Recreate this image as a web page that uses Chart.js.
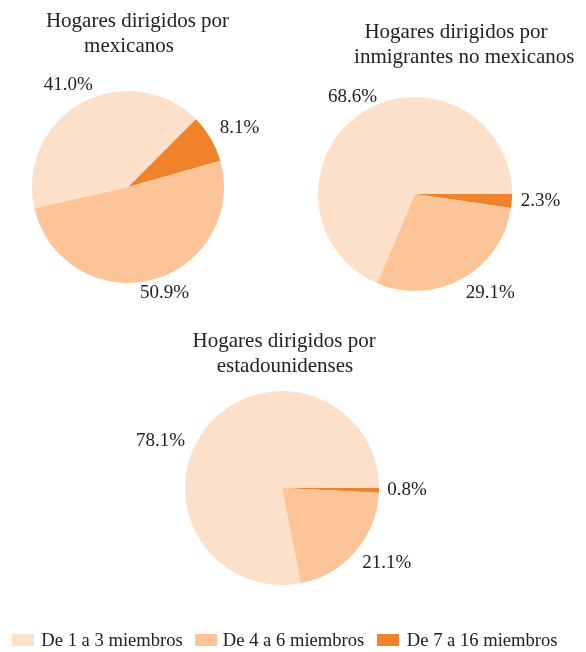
<!DOCTYPE html>
<html>
<head>
<meta charset="utf-8">
<script src="https://cdn.jsdelivr.net/npm/chart.js@4/dist/chart.umd.min.js"></script>
<style>
  html, body { margin: 0; padding: 0; background: #fff; }
  #root { position: relative; width: 586px; height: 652px; overflow: hidden; background: #fff;
          font-family: "Liberation Serif", "Times New Roman", serif; color: #222; }
  canvas.pie { position: absolute; }
  .tline { position: absolute; font-size: 21px; line-height: 25.2px; white-space: nowrap; transform: translateX(-50%); }
  .legend { position: absolute; top: 630.3px; left: 0; font-size: 18.6px; line-height: 19px; white-space: nowrap; }
  .item { position: absolute; top: 0; }
  .sw { position: absolute; width: 22px; height: 12px; top: 4px; }
  .lt { position: absolute; top: 0; }
</style>
</head>
<body>
<div id="root">
  <canvas id="c1" class="pie" width="320" height="320"></canvas>
  <canvas id="c2" class="pie" width="320" height="320"></canvas>
  <canvas id="c3" class="pie" width="320" height="320"></canvas>
  <div class="tline" style="left:137.5px; top:8.3px;">Hogares dirigidos por</div>
  <div class="tline" style="left:129px; top:33.3px;">mexicanos</div>
  <div class="tline" style="left:456px; top:19.3px;">Hogares dirigidos por</div>
  <div class="tline" style="left:464.3px; top:44.3px;">inmigrantes no mexicanos</div>
  <div class="tline" style="left:284.2px; top:328.3px;">Hogares dirigidos por</div>
  <div class="tline" style="left:285px; top:353.3px;">estadounidenses</div>
  <div class="legend" id="legend"></div>
</div>
<script>
// ---- data ----
const categories = ['De 1 a 3 miembros', 'De 4 a 6 miembros', 'De 7 a 16 miembros'];
const mexicanos = [41.0, 50.9, 8.1];
const inmigrantes = [68.6, 29.1, 2.3];
const estadounidenses = [78.1, 21.1, 0.8];

// ---- styles ----
const colors = ['#fde0c9', '#fdc597', '#f0822a'];
const textColor = '#222';

// pie settings (layout only)
const pies = [
  { id: 'c1', values: mexicanos,       cx: 128,   cy: 187, r: 96, rotation: 45,
    labelDist: [1.245, 1.156, 1.32], labelNudge: [-1.2, -5, 2] },
  { id: 'c2', values: inmigrantes,     cx: 414.5, cy: 194, r: 97, rotation: 90,
    labelDist: [1.2, 1.27, 1.295],   labelNudge: [1, -8.3, -1.6] },
  { id: 'c3', values: estadounidenses, cx: 282,   cy: 488, r: 97, rotation: 90,
    labelDist: [1.35, 1.32, 1.29],   labelNudge: [-17.5, -5.7, -1.1] }
];

const CANVAS = 320;
const pctLabels = {
  id: 'pctLabels',
  afterDatasetsDraw(chart, args, opts) {
    const ctx = chart.ctx;
    const meta = chart.getDatasetMeta(0);
    const n = meta.data.length;
    ctx.save();
    ctx.font = '19px "Liberation Serif", "Times New Roman", serif';
    ctx.fillStyle = textColor;
    ctx.textAlign = 'center';
    ctx.textBaseline = 'alphabetic';
    meta.data.forEach((arc, i) => {
      const cat = n - 1 - i; // drawn in reverse order
      const p = arc.getProps(['x', 'y', 'startAngle', 'endAngle', 'outerRadius'], true);
      const mid = (p.startAngle + p.endAngle) / 2 + opts.nudge[cat] * Math.PI / 180;
      const d = p.outerRadius * opts.dist[cat];
      const x = p.x + Math.cos(mid) * d;
      const y = p.y + Math.sin(mid) * d;
      const v = chart.data.datasets[0].data[i];
      ctx.fillText(v.toFixed(1) + '%', x, y + 6.4);
    });
    ctx.restore();
  }
};

pies.forEach(pc => {
  const cv = document.getElementById(pc.id);
  cv.style.left = (pc.cx - CANVAS / 2) + 'px';
  cv.style.top = (pc.cy - CANVAS / 2) + 'px';
  const pad = (CANVAS - 2 * pc.r) / 2;
  const order = [2, 1, 0]; // counter-clockwise appearance
  new Chart(cv, {
    type: 'pie',
    data: {
      labels: order.map(k => categories[k]),
      datasets: [{
        data: order.map(k => pc.values[k]),
        backgroundColor: order.map(k => colors[k]),
        borderWidth: 0
      }]
    },
    options: {
      responsive: false,
      animation: false,
      devicePixelRatio: 1,
      rotation: pc.rotation,
      layout: { padding: pad },
      plugins: {
        legend: { display: false },
        tooltip: { enabled: false },
        pctLabels: { dist: pc.labelDist, nudge: pc.labelNudge }
      }
    },
    plugins: [pctLabels]
  });
});

// legend (HTML)
const legendPos = [
  { sw: 12.4, tx: 41.3 },
  { sw: 195.3, tx: 222.8 },
  { sw: 376.8, tx: 406.8 }
];
const lg = document.getElementById('legend');
categories.forEach((c, k) => {
  const s = document.createElement('div');
  s.className = 'sw';
  s.style.left = legendPos[k].sw + 'px';
  s.style.background = colors[k];
  lg.appendChild(s);
  const t = document.createElement('div');
  t.className = 'lt';
  t.style.left = legendPos[k].tx + 'px';
  t.textContent = c;
  lg.appendChild(t);
});
</script>
</body>
</html>
